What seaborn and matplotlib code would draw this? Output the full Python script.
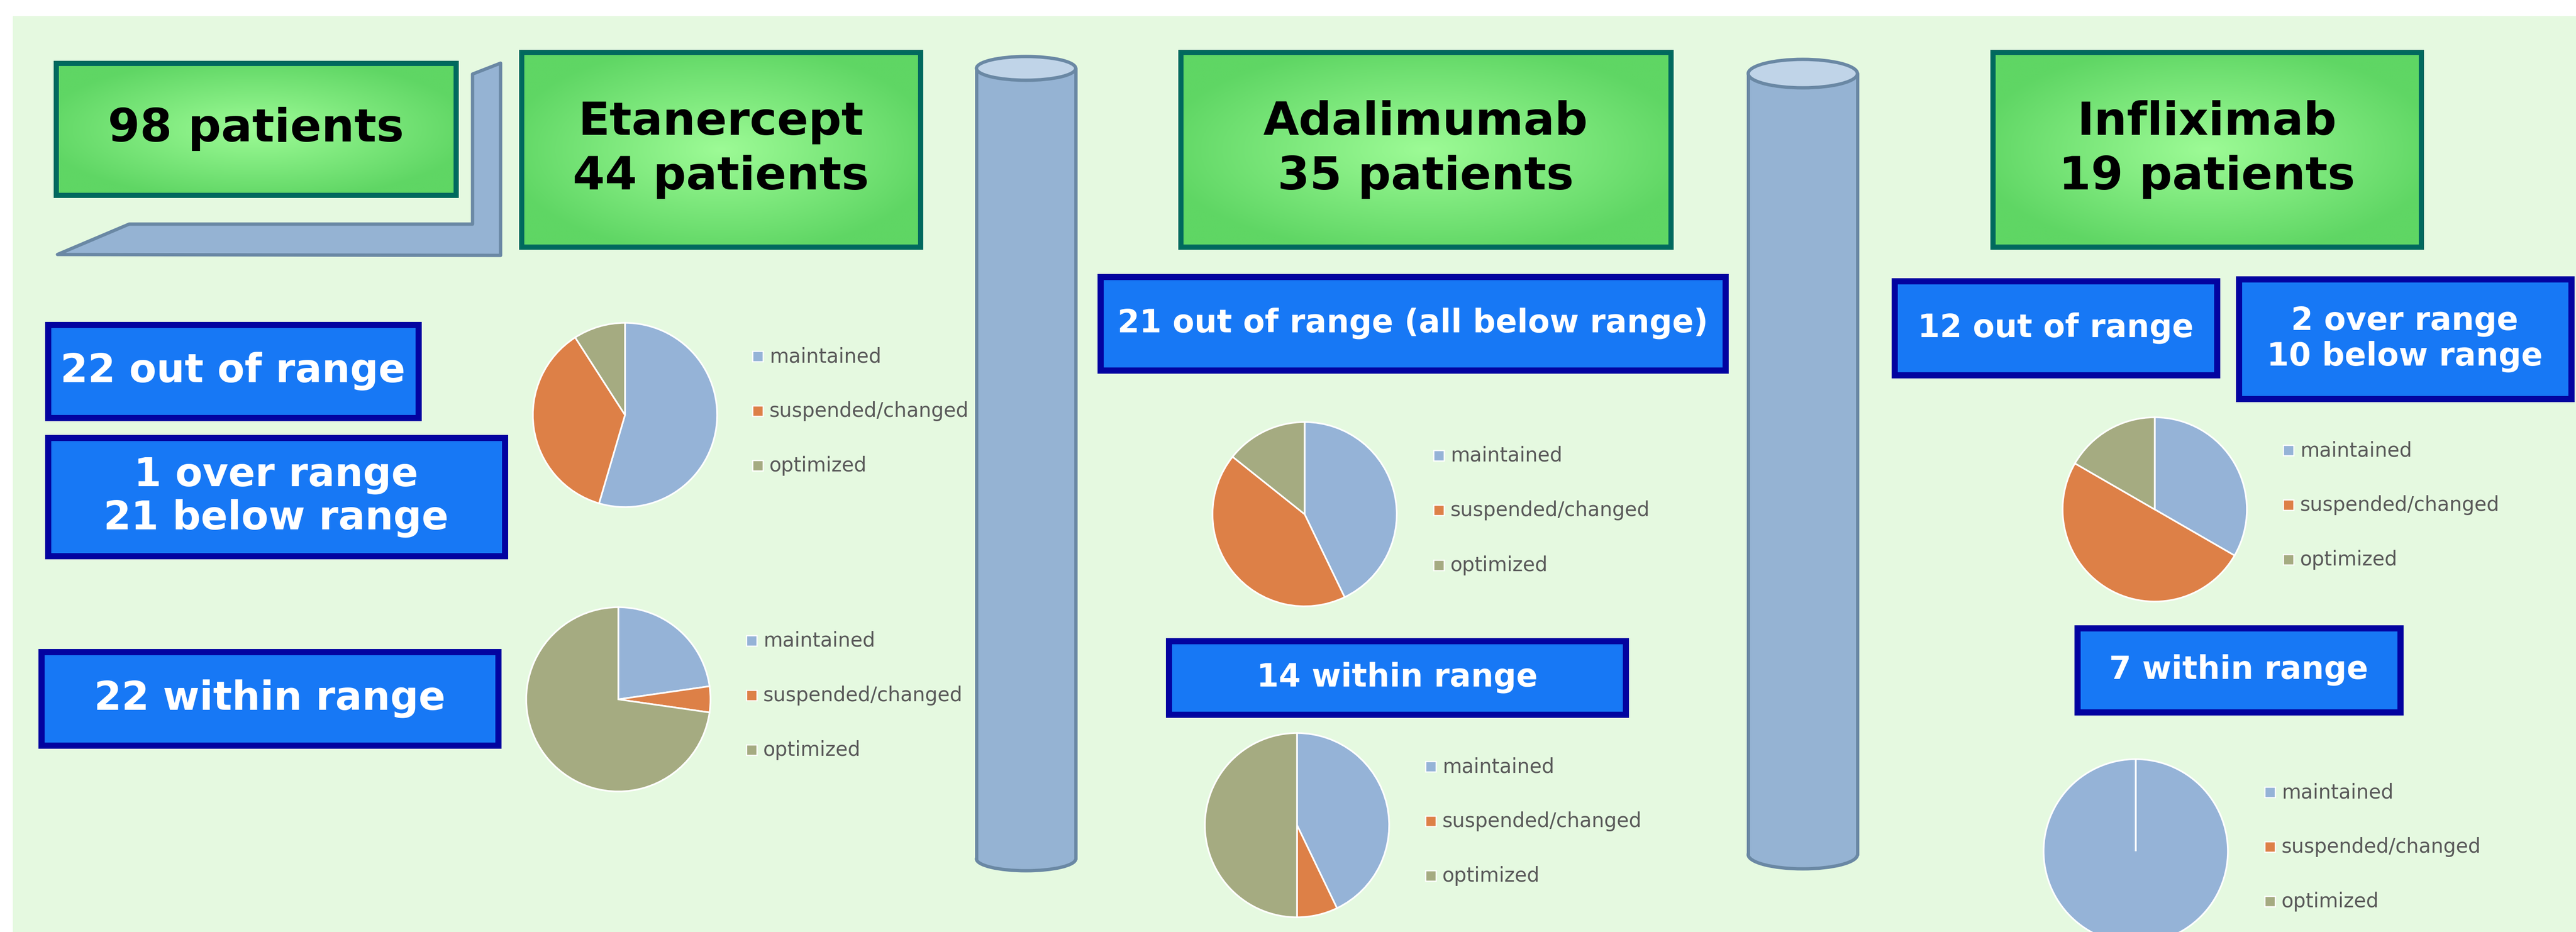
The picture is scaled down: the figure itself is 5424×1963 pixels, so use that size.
import numpy as np
import seaborn as sns
import matplotlib.pyplot as plt
from matplotlib.patches import Rectangle, Ellipse, Polygon
from matplotlib.colors import LinearSegmentedColormap

# Data
total_patients = 98
drugs = ["Etanercept", "Adalimumab", "Infliximab"]
drug_patients = [44, 35, 19]
outcome_labels = ["maintained", "suspended/changed", "optimized"]

etanercept_out = [12, 8, 2]
etanercept_within = [5, 1, 16]
adalimumab_out = [9, 9, 3]
adalimumab_within = [6, 1, 7]
infliximab_out = [4, 6, 2]
infliximab_within = [7, 0, 0]

etanercept_boxes = ["22 out of range", "1 over range\n21 below range", "22 within range"]
adalimumab_boxes = ["21 out of range (all below range)", "14 within range"]
infliximab_boxes = ["12 out of range", "2 over range\n10 below range", "7 within range"]

sns.set_style("white")
plt.rcParams['font.family'] = ['DejaVu Sans']

palette = sns.color_palette(['#95B3D7', '#DD8047', '#A5AB81'])

W, H = 5424, 1963
PT = 72 / 100  # points per pixel

fig = plt.figure(figsize=(W / 100, H / 100), dpi=100)
bg = fig.add_axes([0, 0, 1, 1])
bg.axis('off')

# light green background panel
bg.add_patch(Rectangle((27, 34), W - 27, H - 34, facecolor='#E5F9E0', edgecolor='none', zorder=0))

green_cmap = LinearSegmentedColormap.from_list('grn', ['#9DFB96', '#5FD664'])
EDGE = '#6A88A4'


def green_box(x0, y0, x1, y1, text):
    xx, yy = np.meshgrid(np.linspace(-1, 1, 300), np.linspace(-1, 1, 150))
    d = np.clip(np.sqrt(xx ** 2 + yy ** 2) / 1.1, 0, 1)
    bg.imshow(d, cmap=green_cmap, vmin=0, vmax=1, extent=(x0, x1, y1, y0),
              aspect='auto', zorder=2, interpolation='bilinear')
    bg.add_patch(Rectangle((x0, y0), x1 - x0, y1 - y0, facecolor='none',
                           edgecolor='#00695E', lw=11 * PT, zorder=3))
    bg.text((x0 + x1) / 2, (y0 + y1) / 2, text, ha='center', va='center',
            fontsize=70, fontweight='bold', color='black', linespacing=1.3, zorder=4)


def blue_box(x0, y0, x1, y1, text, fs):
    lw = 13
    bg.add_patch(Rectangle((x0 + lw / 2, y0 + lw / 2), x1 - x0 - lw, y1 - y0 - lw,
                           facecolor='#1778F5', edgecolor='#0303A0', lw=lw * PT, zorder=3))
    bg.text((x0 + x1) / 2, (y0 + y1) / 2, text, ha='center', va='center',
            fontsize=fs, fontweight='bold', color='white', linespacing=1.15, zorder=4)


def cylinder(xl, xr, ytop, ybot, eh):
    cx = (xl + xr) / 2
    w = xr - xl
    kw = dict(facecolor='#95B3D3', edgecolor=EDGE, lw=7 * PT)
    bg.add_patch(Ellipse((cx, ybot - eh / 2), w, eh, zorder=2, **kw))
    bg.add_patch(Rectangle((xl, ytop), w, ybot - eh / 2 - ytop, facecolor='#95B3D3',
                           edgecolor='none', zorder=2))
    bg.plot([xl, xl], [ytop, ybot - eh / 2], color=EDGE, lw=7 * PT, zorder=2)
    bg.plot([xr, xr], [ytop, ybot - eh / 2], color=EDGE, lw=7 * PT, zorder=2)
    bg.add_patch(Ellipse((cx, ytop), w, eh, facecolor='#C0D4E8', edgecolor=EDGE,
                         lw=7 * PT, zorder=2))


def pie_at(cx, cy, r, values):
    rr = r * 1.02
    ax = fig.add_axes([(cx - rr) / W, 1 - (cy + rr) / H, 2 * rr / W, 2 * rr / H])
    ax.pie(values, colors=palette, startangle=90, counterclock=False,
           wedgeprops=dict(edgecolor='white', linewidth=2.5))
    ax.set_xlim(-1.02, 1.02)
    ax.set_ylim(-1.02, 1.02)
    ax.axis('off')


def legend_at(tx, rows):
    for lab, col, ry in zip(outcome_labels, palette, rows):
        bg.add_patch(Rectangle((tx - 35, ry - 11), 22, 22, facecolor=col,
                               edgecolor='white', lw=2.5 * PT, zorder=3))
        bg.text(tx, ry, lab, ha='left', va='center', fontsize=30, color='#595959', zorder=3)


# bent arrow from the total box
bg.add_patch(Polygon([(121, 536), (272, 472), (995, 472), (995, 156), (1054, 133), (1054, 538)],
                     closed=True, facecolor='#95B3D3', edgecolor=EDGE, lw=7 * PT,
                     joinstyle='round', zorder=2))

cylinder(2056, 2265, 144, 1834, 50)
cylinder(3681, 3911, 155, 1830, 60)

# header boxes
green_box(118, 133, 960, 411, f"{total_patients} patients")
green_box(1098, 110, 1938, 520, f"{drugs[0]}\n{drug_patients[0]} patients")
green_box(2486, 110, 3518, 520, f"{drugs[1]}\n{drug_patients[1]} patients")
green_box(4196, 110, 5098, 520, f"{drugs[2]}\n{drug_patients[2]} patients")

# Etanercept column
blue_box(94, 677, 887, 886, etanercept_boxes[0], 60)
blue_box(94, 915, 1069, 1177, etanercept_boxes[1], 60)
blue_box(80, 1366, 1055, 1576, etanercept_boxes[2], 60)
pie_at(1316, 874, 194, etanercept_out)
legend_at(1620, [751, 866, 981])
pie_at(1302, 1473, 194, etanercept_within)
legend_at(1607, [1350, 1465, 1580])

# Adalimumab column
blue_box(2310, 576, 3639, 786, adalimumab_boxes[0], 48)
blue_box(2454, 1343, 3429, 1511, adalimumab_boxes[1], 48)
pie_at(2747, 1083, 194, adalimumab_out)
legend_at(3054, [960, 1075, 1191])
pie_at(2731, 1738, 194, adalimumab_within)
legend_at(3037, [1615, 1730, 1845])

# Infliximab column
blue_box(3982, 585, 4674, 796, infliximab_boxes[0], 48)
blue_box(4707, 581, 5420, 846, infliximab_boxes[1], 48)
blue_box(4367, 1316, 5060, 1506, infliximab_boxes[2], 48)
pie_at(4537, 1073, 194, infliximab_out)
legend_at(4843, [949, 1064, 1179])
pie_at(4497, 1793, 194, infliximab_within)
legend_at(4804, [1669, 1784, 1899])

bg.set_xlim(0, W)
bg.set_ylim(H, 0)

fig.savefig('out.png', dpi=100, facecolor='white')
plt.close(fig)
